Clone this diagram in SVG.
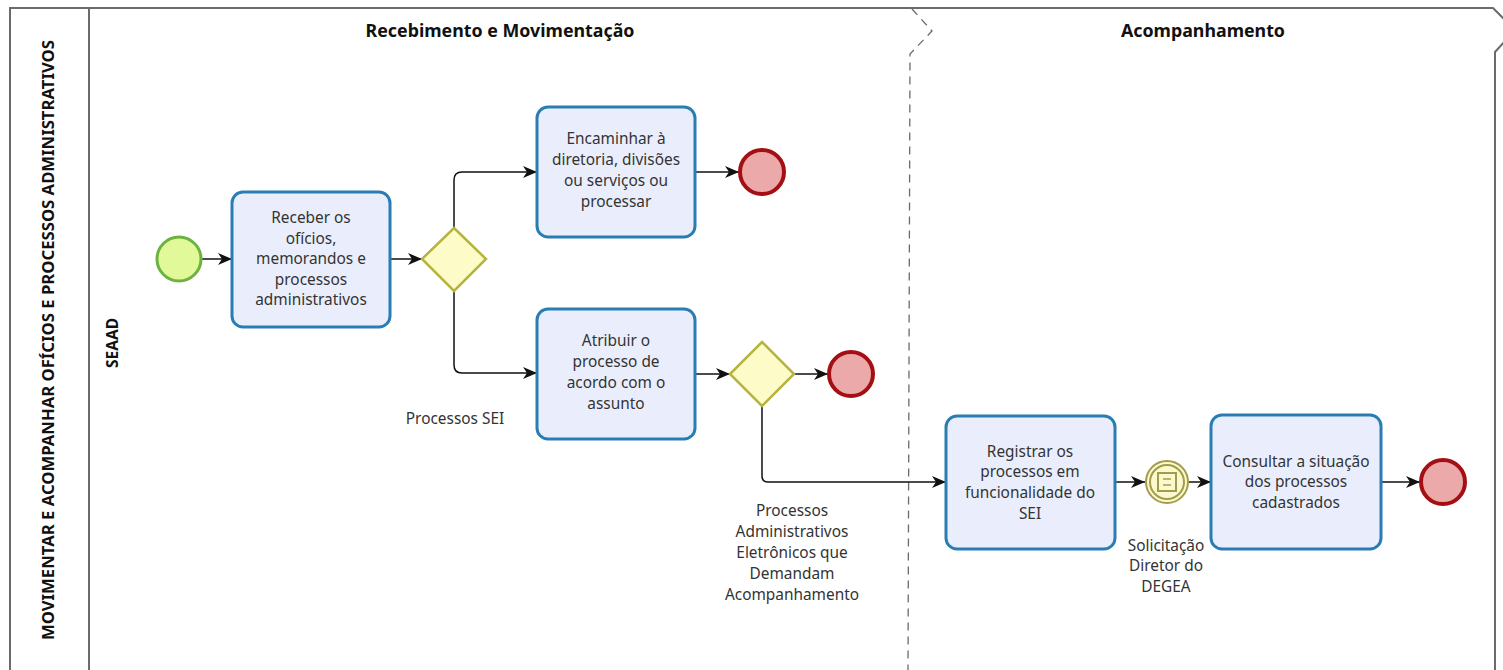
<svg xmlns="http://www.w3.org/2000/svg" width="1503" height="670" viewBox="0 0 1503 670">
<style>
.pool{fill:none;stroke:#6b6b6b;stroke-width:2}
.phase{fill:none;stroke:#6b6b6b;stroke-width:1.3;stroke-dasharray:8 6}
.task{fill:#eaeefc;stroke:#2a7db3;stroke-width:3}
.gw{fill:#fdfcc8;stroke:#b6b43c;stroke-width:2.5}
.start{fill:#e2f99a;stroke:#6db33f;stroke-width:3}
.end{fill:#eca9a9;stroke:#a40f14;stroke-width:4}
.ie{fill:#fbf9cf;stroke:#a39c48;stroke-width:2}
.flow{fill:none;stroke:#111;stroke-width:1.5;marker-end:url(#arr)}
.t{font-family:"Noto Sans","Open Sans",sans-serif;font-size:15.4px;fill:#333;text-anchor:middle}
.h{font-family:"Noto Sans","Open Sans",sans-serif;font-size:17px;font-weight:bold;fill:#111;text-anchor:middle}
.lab{font-family:"Noto Sans","Open Sans",sans-serif;font-size:16px;font-weight:bold;fill:#111;text-anchor:middle}
</style>
<defs>
<marker id="arr" viewBox="0 0 14 12" refX="14" refY="6" markerWidth="14" markerHeight="12" markerUnits="userSpaceOnUse" orient="auto">
<path d="M0,0 L14,6 L0,12 L4,6 z" fill="#111"/>
</marker>
</defs>
<rect width="1503" height="670" fill="#fff"/>
<g id="pool">
<path class="pool" d="M10,672 L10,8 L1493,8 L1515,30 L1495,52 L1495,672"/>
<line class="pool" x1="89" y1="8" x2="89" y2="672" stroke-width="1.5"/>
<text class="lab" transform="translate(54,340) rotate(-90)" textLength="600" lengthAdjust="spacingAndGlyphs">MOVIMENTAR E ACOMPANHAR OFÍCIOS E PROCESSOS ADMINISTRATIVOS</text>
<text class="lab" transform="translate(118,343) rotate(-90)" textLength="50" lengthAdjust="spacingAndGlyphs">SEAAD</text>
</g>
<g id="phases">
<path class="phase" d="M912,9 L932,31 L910,54 L908,672"/>
<text class="h" x="500" y="37" textLength="269" lengthAdjust="spacingAndGlyphs">Recebimento e Movimentação</text>
<text class="h" x="1203" y="37" textLength="164" lengthAdjust="spacingAndGlyphs">Acompanhamento</text>
</g>
<g id="connectors">
<path class="flow" d="M201,259 L232,259"/>
<path class="flow" d="M391,259 L422,259"/>
<path class="flow" d="M454,228 L454,180 Q454,172 462,172 L537,172"/>
<path class="flow" d="M454,291 L454,365 Q454,373 462,373 L537,373"/>
<path class="flow" d="M695,172 L739,172"/>
<path class="flow" d="M695,374 L730,374"/>
<path class="flow" d="M794,374 L828,374"/>
<path class="flow" d="M762,406 L762,476 Q762,482 768,482 L946,482"/>
<path class="flow" d="M1115,482 L1145,482"/>
<path class="flow" d="M1189,482 L1211,482"/>
<path class="flow" d="M1381,482 L1420,482"/>
</g>
<g id="start">
<circle class="start" cx="179" cy="259" r="22"/>
</g>
<g id="task1">
<rect class="task" x="232" y="192" width="158" height="135" rx="11"/>
<text class="t" x="311" y="223">Receber os</text>
<text class="t" x="311" y="244">ofícios,</text>
<text class="t" x="311" y="264">memorandos e</text>
<text class="t" x="311" y="285">processos</text>
<text class="t" x="311" y="305">administrativos</text>
</g>
<g id="gw1">
<path class="gw" d="M454,228 L486,259 L454,291 L422,259 z"/>
<text class="t" x="455" y="424">Processos SEI</text>
</g>
<g id="task2">
<rect class="task" x="537" y="107" width="158" height="130" rx="11"/>
<text class="t" x="616" y="144">Encaminhar à</text>
<text class="t" x="616" y="165">diretoria, divisões</text>
<text class="t" x="616" y="186">ou serviços ou</text>
<text class="t" x="616" y="207">processar</text>
</g>
<g id="end1">
<circle class="end" cx="762" cy="172" r="22"/>
</g>
<g id="task3">
<rect class="task" x="537" y="309" width="158" height="130" rx="11"/>
<text class="t" x="616" y="346">Atribuir o</text>
<text class="t" x="616" y="367">processo de</text>
<text class="t" x="616" y="388">acordo com o</text>
<text class="t" x="616" y="409">assunto</text>
</g>
<g id="gw2">
<path class="gw" d="M762,342 L794,374 L762,406 L730,374 z"/>
<text class="t" x="792" y="516">Processos</text>
<text class="t" x="792" y="537">Administrativos</text>
<text class="t" x="792" y="558">Eletrônicos que</text>
<text class="t" x="792" y="579">Demandam</text>
<text class="t" x="792" y="600">Acompanhamento</text>
</g>
<g id="end2">
<circle class="end" cx="851" cy="374" r="22"/>
</g>
<g id="task4">
<rect class="task" x="946" y="416" width="169" height="133" rx="11"/>
<text class="t" x="1030" y="457">Registrar os</text>
<text class="t" x="1030" y="477">processos em</text>
<text class="t" x="1030" y="498">funcionalidade do</text>
<text class="t" x="1030" y="519">SEI</text>
</g>
<g id="event">
<circle class="ie" cx="1167" cy="482" r="21"/>
<circle class="ie" cx="1167" cy="482" r="17"/>
<rect x="1158" y="473" width="18" height="18" fill="none" stroke="#a39c48" stroke-width="2"/>
<line x1="1163" y1="479" x2="1171" y2="479" stroke="#a39c48" stroke-width="1.5"/>
<line x1="1163" y1="485" x2="1171" y2="485" stroke="#a39c48" stroke-width="1.5"/>
<text class="t" x="1166" y="551">Solicitação</text>
<text class="t" x="1166" y="571">Diretor do</text>
<text class="t" x="1166" y="592">DEGEA</text>
</g>
<g id="task5">
<rect class="task" x="1211" y="415" width="170" height="134" rx="11"/>
<text class="t" x="1296" y="467">Consultar a situação</text>
<text class="t" x="1296" y="487">dos processos</text>
<text class="t" x="1296" y="508">cadastrados</text>
</g>
<g id="end3">
<circle class="end" cx="1443" cy="482" r="22"/>
</g>
</svg>
